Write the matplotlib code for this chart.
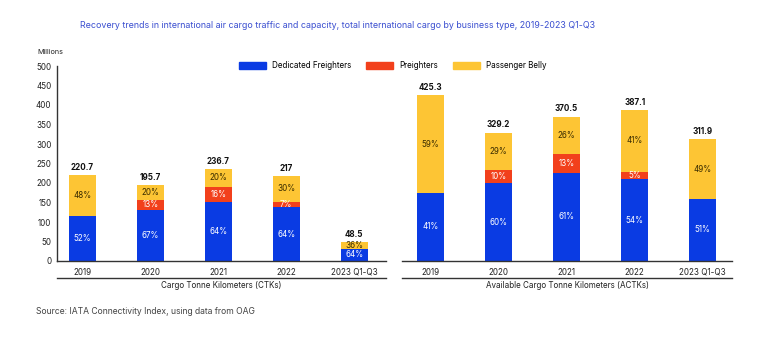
import numpy as np
import matplotlib.pyplot as plt
from matplotlib.lines import Line2D
from matplotlib.patches import Patch

plt.rcParams['font.family'] = ['Inter', 'DejaVu Sans']

years = ["2019", "2020", "2021", "2022", "2023 Q1-Q3"]

# CTKs (millions) and shares by business type
ctk_total = [220.7, 195.7, 236.7, 217, 48.5]
ctk_freighter = [52, 67, 64, 64, 64]
ctk_preighter = [0, 13, 16, 7, 0]
ctk_belly = [48, 20, 20, 30, 36]

# ACTKs (millions) and shares by business type
actk_total = [425.3, 329.2, 370.5, 387.1, 311.9]
actk_freighter = [41, 60, 61, 54, 51]
actk_preighter = [0, 10, 13, 5, 0]
actk_belly = [59, 29, 26, 41, 49]

c_blue = "#0a3be3"
c_red = "#f2401c"
c_yellow = "#fdc534"
title_col = "#3b4fd0"

fig = plt.figure(figsize=(7.71, 3.48), dpi=100)
fs = 5.8

ax1 = fig.add_axes([57 / 771, 87 / 348, 329 / 771, 195 / 348])
ax2 = fig.add_axes([402 / 771, 87 / 348, 330 / 771, 195 / 348])


def draw_panel(ax, total, fr, pr, pb, xlim, xlabel):
    x = np.arange(len(total))
    total = np.array(total, dtype=float)
    shares = [np.array(fr), np.array(pr), np.array(pb)]
    s = sum(shares)
    vals = [total * sh / s for sh in shares]
    bottom = np.zeros(len(total))
    for v, sh, col, tcol in zip(vals, shares, [c_blue, c_red, c_yellow],
                                ["white", "white", "#3a2c00"]):
        ax.bar(x, v, 0.4, bottom=bottom, color=col, linewidth=0)
        for i in range(len(x)):
            if sh[i] > 0:
                ax.text(x[i], bottom[i] + v[i] / 2, f"{sh[i]}%", ha="center",
                        va="center", color=tcol, fontsize=fs)
        bottom = bottom + v
    for i in range(len(x)):
        ax.text(x[i], total[i] + 8, f"{total[i]:g}", ha="center", va="bottom",
                fontsize=fs, fontweight="bold", color="#111111")
    ax.set_xlim(*xlim)
    ax.set_ylim(0, 500)
    ax.set_xticks(x)
    ax.set_xticklabels(years, fontsize=fs, color="#222222")
    ax.tick_params(axis="x", length=0, pad=5)
    for sp in ["top", "right"]:
        ax.spines[sp].set_visible(False)
    ax.spines["bottom"].set_color("#333333")
    ax.spines["bottom"].set_linewidth(1.0)
    ax.add_line(Line2D([0, 1], [-0.087, -0.087], transform=ax.transAxes,
                       color="#333333", linewidth=1.0, clip_on=False))
    ax.text(0.5, -0.105, xlabel, transform=ax.transAxes, ha="center",
            va="top", fontsize=fs, color="#222222")


draw_panel(ax1, ctk_total, ctk_freighter, ctk_preighter, ctk_belly,
           (-0.372, 4.466), "Cargo Tonne Kilometers (CTKs)")
draw_panel(ax2, actk_total, actk_freighter, actk_preighter, actk_belly,
           (-0.42, 4.43), "Available Cargo Tonne Kilometers (ACTKs)")

ax1.set_yticks(np.arange(0, 501, 50))
ax1.tick_params(axis="y", length=0, labelsize=fs, pad=4, labelcolor="#222222")
ax1.spines["left"].set_color("#333333")
ax1.spines["left"].set_linewidth(1.0)
ax2.set_yticks([])
ax2.spines["left"].set_visible(False)

fig.text(37 / 771, 1 - 52 / 348, "Millions", fontsize=5.2, color="#222222",
         va="center")
fig.text(338 / 771, 1 - 25 / 348,
         "Recovery trends in international air cargo traffic and capacity, "
         "total international cargo by business type, 2019-2023 Q1-Q3",
         ha="center", va="center", fontsize=6.4, color=title_col)
fig.text(36 / 771, 1 - 312 / 348, "Source: IATA Connectivity Index, using data from OAG",
         fontsize=6.2, color="#444444", va="center")

handles = [Patch(color=c_blue), Patch(color=c_red), Patch(color=c_yellow)]
fig.legend(handles, ["Dedicated Freighters", "Preighters", "Passenger Belly"],
           loc="center", bbox_to_anchor=(393 / 771, 1 - 66 / 348), ncol=3,
           frameon=False, fontsize=fs, handlelength=3.35, handleheight=0.9,
           columnspacing=1.85, handletextpad=0.75)

fig.savefig("out.png", dpi=100, facecolor="white")
